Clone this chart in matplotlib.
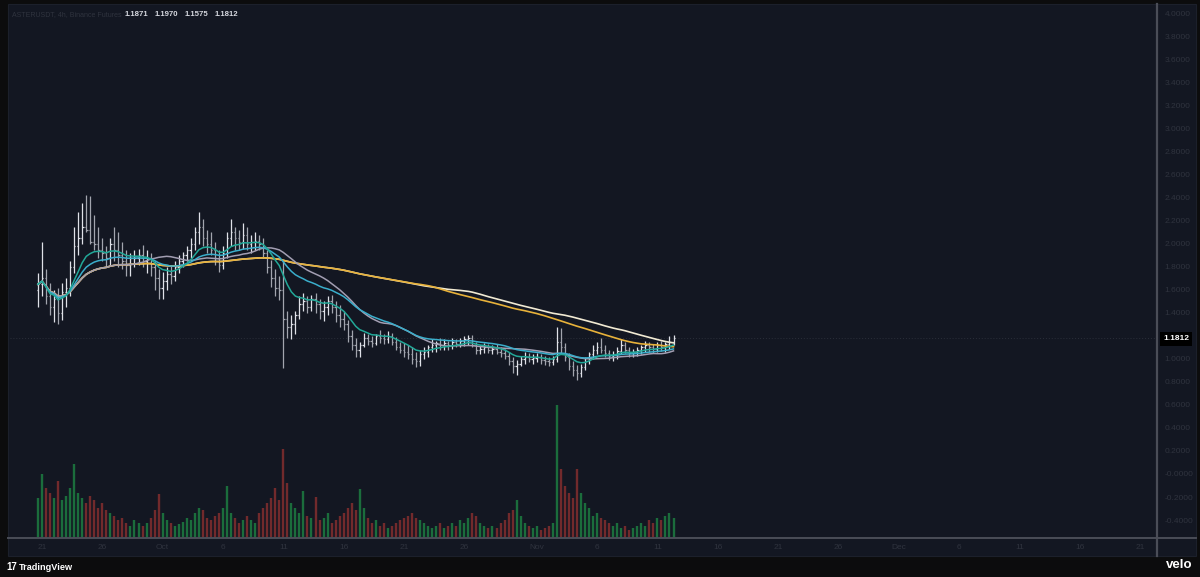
import numpy as np
import pandas as pd
import matplotlib
matplotlib.use("Agg")
import matplotlib.pyplot as plt
import matplotlib.dates as mdates
from matplotlib.patches import Rectangle
from matplotlib.lines import Line2D
from datetime import datetime

# ---------------- data (8h bars) ----------------
bar_start = "2025-09-20 16:00"
highs = [1.75,2.02,1.78,1.66,1.60,1.62,1.66,1.70,1.85,2.15,
         2.28,2.36,2.43,2.42,2.25,2.15,2.05,1.98,2.05,2.15,
         2.10,2.02,1.95,1.92,1.95,1.96,1.99,1.95,1.92,1.85,
         1.78,1.76,1.80,1.82,1.85,1.90,1.93,1.98,2.05,2.15,
         2.28,2.22,2.12,2.10,2.02,1.95,1.98,2.10,2.22,2.15,
         2.12,2.18,2.15,2.08,2.10,2.08,2.05,1.95,1.86,1.78,
         1.72,1.86,1.42,1.38,1.42,1.55,1.57,1.55,1.56,1.57,
         1.52,1.50,1.55,1.56,1.50,1.47,1.42,1.34,1.25,1.18,
         1.15,1.23,1.22,1.20,1.22,1.25,1.22,1.24,1.23,1.19,
         1.15,1.14,1.12,1.10,1.06,1.08,1.10,1.12,1.17,1.16,
         1.18,1.17,1.16,1.18,1.17,1.18,1.20,1.21,1.21,1.15,
         1.12,1.14,1.13,1.12,1.13,1.10,1.09,1.06,1.02,0.99,
         1.03,1.06,1.05,1.04,1.05,1.04,1.03,1.02,1.03,1.28,
         1.27,1.14,1.05,0.98,0.95,0.96,1.02,1.06,1.12,1.15,
         1.18,1.12,1.08,1.07,1.10,1.17,1.15,1.10,1.09,1.10,
         1.12,1.16,1.15,1.13,1.15,1.16,1.15,1.20,1.21]
lows = [1.45,1.55,1.48,1.38,1.32,1.30,1.34,1.45,1.55,1.75,
        1.90,2.00,2.10,2.00,1.95,1.88,1.85,1.80,1.82,1.85,
        1.80,1.78,1.72,1.72,1.80,1.82,1.80,1.75,1.72,1.60,
        1.52,1.52,1.60,1.65,1.68,1.75,1.80,1.85,1.88,1.95,
        2.00,1.98,1.92,1.90,1.82,1.76,1.78,1.88,1.98,1.95,
        1.95,1.96,1.95,1.92,1.95,1.95,1.88,1.75,1.63,1.55,
        1.51,0.92,1.18,1.17,1.22,1.35,1.42,1.40,1.42,1.40,
        1.35,1.33,1.38,1.40,1.32,1.28,1.25,1.15,1.08,1.02,
        1.02,1.10,1.12,1.10,1.12,1.14,1.13,1.14,1.12,1.08,
        1.05,1.02,1.00,0.96,0.93,0.94,1.00,1.02,1.06,1.06,
        1.08,1.08,1.08,1.09,1.10,1.10,1.11,1.12,1.10,1.04,
        1.04,1.05,1.05,1.04,1.04,1.02,1.00,0.95,0.88,0.86,
        0.94,0.96,0.97,0.96,0.97,0.96,0.95,0.94,0.95,0.97,
        1.05,0.98,0.90,0.85,0.82,0.84,0.90,0.96,1.00,1.04,
        1.05,1.02,0.99,0.98,1.00,1.04,1.05,1.02,1.02,1.03,
        1.04,1.06,1.06,1.05,1.06,1.07,1.06,1.09,1.12]
closes = [1.65,1.70,1.55,1.45,1.52,1.40,1.58,1.62,1.80,1.98,
          2.05,2.15,2.12,2.02,2.00,1.95,1.92,1.88,2.00,1.95,
          1.90,1.85,1.82,1.88,1.88,1.90,1.85,1.88,1.80,1.70,
          1.62,1.68,1.74,1.72,1.80,1.85,1.90,1.95,2.00,2.10,
          2.15,2.05,2.00,1.95,1.88,1.82,1.92,2.05,2.10,2.05,
          2.02,2.08,2.00,2.02,2.03,2.00,1.92,1.80,1.70,1.62,
          1.60,1.35,1.28,1.30,1.38,1.48,1.50,1.45,1.52,1.48,
          1.42,1.45,1.50,1.45,1.38,1.35,1.30,1.20,1.12,1.08,
          1.12,1.18,1.16,1.14,1.20,1.18,1.17,1.20,1.15,1.10,
          1.08,1.06,1.04,1.00,0.98,1.04,1.06,1.10,1.12,1.14,
          1.12,1.14,1.12,1.15,1.13,1.16,1.17,1.18,1.12,1.08,
          1.09,1.10,1.08,1.09,1.06,1.05,1.03,0.98,0.94,0.96,
          1.00,1.02,1.00,1.01,1.02,0.99,0.98,0.97,1.00,1.15,
          1.10,1.02,0.94,0.90,0.88,0.93,0.98,1.04,1.08,1.10,
          1.08,1.05,1.03,1.04,1.07,1.12,1.08,1.05,1.06,1.08,
          1.10,1.12,1.10,1.09,1.12,1.10,1.13,1.15,1.1812]
first_open = 1.60
volumes = [40,64,50,45,40,57,38,42,50,74,
           45,40,35,42,38,30,35,28,25,22,
           18,20,15,12,18,15,12,15,20,28,
           44,25,18,15,12,14,16,20,18,25,
           30,28,20,18,22,25,30,52,25,20,
           15,18,22,18,15,25,30,35,40,50,
           38,89,55,35,30,25,47,22,20,41,
           18,20,25,15,18,22,25,30,35,28,
           49,30,20,15,18,12,15,10,12,15,
           18,20,22,25,20,18,15,12,10,12,
           15,10,12,15,12,18,15,20,25,22,
           15,12,10,12,10,15,18,25,28,38,
           22,15,12,10,12,8,10,12,15,133,
           69,52,45,40,69,45,35,30,22,25,
           20,18,15,12,15,10,12,8,10,12,
           15,12,18,15,20,18,22,25,20]

header_title = "ASTERUSDT, 4h, Binance Futures"
header_ohlc = ["1.1871", "1.1970", "1.1575", "1.1812"]
last_price_label = "1.1812"

ytick_values = [-0.4, -0.2, 0.0, 0.2, 0.4, 0.6, 0.8, 1.0, 1.4, 1.6, 1.8,
                2.0, 2.2, 2.4, 2.6, 2.8, 3.0, 3.2, 3.4, 3.6, 3.8, 4.0]
ytick_labels = ["-0.4000", "-0.2000", "-0.0000", "0.2000", "0.4000", "0.6000",
                "0.8000", "1.0000", "1.4000", "1.6000", "1.8000",
                "2.0000", "2.2000", "2.4000", "2.6000", "2.8000", "3.0000",
                "3.2000", "3.4000", "3.6000", "3.8000", "4.0000"]
xtick_dates = ["2025-09-21", "2025-09-26", "2025-10-01", "2025-10-06", "2025-10-11",
               "2025-10-16", "2025-10-21", "2025-10-26", "2025-11-01", "2025-11-06",
               "2025-11-11", "2025-11-16", "2025-11-21", "2025-11-26", "2025-12-01",
               "2025-12-06", "2025-12-11", "2025-12-16", "2025-12-21"]
xtick_labels = ["21", "26", "Oct", "6", "11", "16", "21", "26", "Nov", "6",
                "11", "16", "21", "26", "Dec", "6", "11", "16", "21"]

# ---------------- derived ----------------
times = pd.date_range(bar_start, periods=len(closes), freq="8h")
x = mdates.date2num(times.to_pydatetime())
c = np.array(closes)
o = np.concatenate([[first_open], c[:-1]])
h = np.array(highs)
l = np.array(lows)
up = c >= o

s = pd.Series(c)
ma_teal = s.ewm(span=10, adjust=True).mean()
ma_cyan = s.ewm(span=25, adjust=True).mean()
ma_grey = s.rolling(25, min_periods=1).mean()
ma_gold = s.rolling(90, min_periods=1).mean()
ma_cream = s.rolling(100, min_periods=1).mean()

# ---------------- figure ----------------
FONT = "Liberation Sans"
W, H = 1200, 577
fig = plt.figure(figsize=(12, 5.77), dpi=100, facecolor="#0c0c0d")
fx = lambda px: px / W
fy = lambda py: 1 - py / H

PANEL = "#131722"
fig.add_artist(Rectangle((fx(8), fy(556)), (1196 - 8) / W, (556 - 4) / H,
                         transform=fig.transFigure, facecolor=PANEL,
                         edgecolor="#1c202b", lw=0.8, zorder=-5))

ax = fig.add_axes([fx(10), fy(538), (1157 - 10) / W, (538 - 5) / H])
ax2 = ax.twinx()
ax.set_zorder(2)
ax2.set_zorder(1)
ax.patch.set_visible(False)
ax2.patch.set_visible(False)
for a in (ax, ax2):
    for sp in a.spines.values():
        sp.set_visible(False)

ax.set_xlim(mdates.date2num(datetime(2025, 9, 18, 8, 24)),
            mdates.date2num(datetime(2025, 12, 22, 9, 36)))
ax.set_ylim(-0.5565, 4.078)
ax2.set_ylim(0, 533)
ax2.set_yticks([])

# volume (thin columns)
vol_colors = ["#1b6d3c" if u else "#722a2c" for u in up]
ax2.vlines(x, 0, volumes, colors=vol_colors, lw=1.7)

# price bars (OHLC)
cols = ["#dfe1e8" if u else "#a2a5ae" for u in up]
tw = 0.11
ax.vlines(x, l, h, colors=cols, lw=0.9, zorder=3)
ax.hlines(o, x - tw, x, colors=cols, lw=0.9, zorder=3)
ax.hlines(c, x, x + tw, colors=cols, lw=0.9, zorder=3)

# moving averages
ax.plot(x, ma_cream, color="#f1ead3", lw=1.2, zorder=4)
ax.plot(x, ma_gold, color="#e8b23a", lw=1.2, zorder=4)
ax.plot(x, ma_grey, color="#a29eb2", lw=1.1, zorder=4)
ax.plot(x, ma_cyan, color="#3aaecb", lw=1.1, zorder=4)
ax.plot(x, ma_teal, color="#22a898", lw=1.1, zorder=4)

# last price line
ax.axhline(c[-1], color="#2b2f3a", lw=0.7, ls=(0, (1, 2)), zorder=1)

# ticks
AXC = "#2f333e"
ax.yaxis.tick_right()
ax.set_yticks(ytick_values)
ax.set_yticklabels(ytick_labels, fontfamily=FONT)
ax.tick_params(axis="y", length=0, pad=5.5, labelsize=6, labelcolor=AXC)
ax.set_xticks([mdates.date2num(pd.Timestamp(d).to_pydatetime()) for d in xtick_dates])
ax.set_xticklabels(xtick_labels, fontfamily=FONT)
ax.tick_params(axis="x", length=0, pad=4, labelsize=6, labelcolor=AXC)

# separators
SEP = "#4a4d57"
fig.add_artist(Line2D([fx(1157), fx(1157)], [fy(4), fy(556)], transform=fig.transFigure,
                      color=SEP, lw=1.6, zorder=6))
fig.add_artist(Line2D([fx(8), fx(1196)], [fy(538), fy(538)], transform=fig.transFigure,
                      color=SEP, lw=1.4, zorder=6))

# header
fig.text(fx(12), fy(15), header_title, color=AXC, fontsize=5.0, va="center",
         fontfamily=FONT)
for xp, t in zip([125, 155, 185, 215], header_ohlc):
    fig.text(fx(xp), fy(15), t, color="#d6d8df", fontsize=5.6, va="center",
             fontweight="bold", fontfamily=FONT)

# last price label
fig.text(fx(1176), fy(339), last_price_label, ha="center", va="center", color="white",
         fontsize=6, fontweight="bold", zorder=10, fontfamily=FONT,
         bbox=dict(facecolor="#000000", edgecolor="none", boxstyle="square,pad=0.4"))

# footer
fig.text(fx(6), fy(567), "17", color="white", fontsize=7, fontweight="heavy",
         va="center", fontfamily=FONT)
fig.text(fx(19), fy(567), "TradingView", color="white", fontsize=6.6,
         fontweight="bold", va="center", fontfamily=FONT)
fig.text(fx(1192), fy(565), "velo", color="white", fontsize=9.5, fontweight="bold",
         ha="right", va="center", fontfamily=FONT)

fig.savefig("out.png", dpi=100, facecolor=fig.get_facecolor())
